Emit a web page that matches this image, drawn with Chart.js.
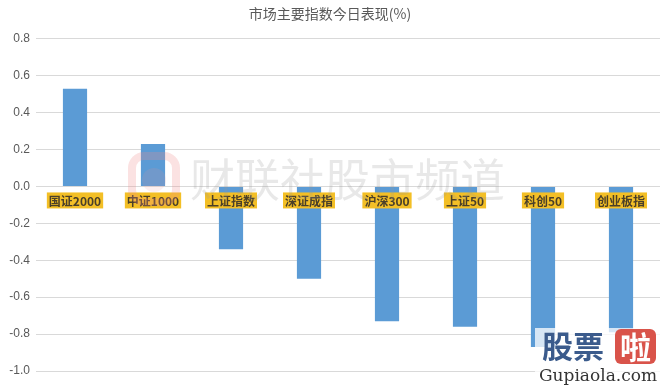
<!DOCTYPE html>
<html>
<head>
<meta charset="utf-8">
<script src="https://cdn.jsdelivr.net/npm/chart.js@4"></script>
<style>
  html, body { margin: 0; padding: 0; background: #fff; }
  #wrap { width: 660px; height: 387px; }
</style>
</head>
<body>
<div id="wrap"><canvas id="chart" width="660" height="387"></canvas></div>
<script>
const categories = ['国证2000', '中证1000', '上证指数', '深证成指', '沪深300', '上证50', '科创50', '创业板指'];
const changes = [0.53, 0.23, -0.34, -0.50, -0.73, -0.76, -0.87, -0.79];
const yTicks = [0.8, 0.6, 0.4, 0.2, 0.0, -0.2, -0.4, -0.6, -0.8, -1.0];

const CJK = '"Noto Sans CJK SC", "Noto Sans", sans-serif';

// category labels sit on the zero line with a yellow box
const zeroLabels = {
    id: 'zeroLabels',
    afterDatasetsDraw(chart) {
        const ctx = chart.ctx;
        const x = chart.scales.x, y = chart.scales.y;
        const y0 = y.getPixelForValue(0) + 14;
        ctx.save();
        ctx.font = 'bold 12px ' + CJK;
        ctx.textAlign = 'center';
        ctx.textBaseline = 'middle';
        categories.forEach((name, i) => {
            const cx = x.getPixelForValue(i);
            const w = ctx.measureText(name).width + 4;
            ctx.fillStyle = '#F3BF26';
            ctx.fillRect(cx - w / 2, y0 - 8, w, 16);
            ctx.fillStyle = '#4a3f28';
            ctx.fillText(name, cx, y0 + 1);
        });
        ctx.restore();
    }
};

// faint watermarks seen in the picture
const watermarks = {
    id: 'watermarks',
    afterDraw(chart) {
        const ctx = chart.ctx;
        ctx.save();
        // logo square
        ctx.strokeStyle = 'rgba(240,140,140,0.25)';
        ctx.lineWidth = 8;
        ctx.beginPath();
        ctx.roundRect(132, 156, 44, 46, 12);
        ctx.stroke();
        ctx.fillStyle = 'rgba(240,150,150,0.15)';
        ctx.beginPath();
        ctx.arc(154, 180, 12, 0, Math.PI * 2);
        ctx.fill();
        ctx.font = '45px ' + CJK;
        ctx.fillStyle = 'rgba(150,150,150,0.22)';
        ctx.textBaseline = 'middle';
        ctx.fillText('财联社股市频道', 190, 180);

        // bottom right stamp
        ctx.fillStyle = 'rgba(255,255,255,0.75)';
        ctx.fillRect(535, 328, 125, 59);
        ctx.font = 'bold 31px ' + CJK;
        ctx.fillStyle = '#3b5b8c';
        ctx.fillText('股票', 542, 346);
        ctx.fillStyle = '#d9534a';
        ctx.beginPath();
        ctx.roundRect(615, 329, 41, 35, 6);
        ctx.fill();
        ctx.fillStyle = '#fff';
        ctx.fillText('啦', 620, 347);
        ctx.font = '17px "DejaVu Serif", serif';
        ctx.fillStyle = '#333';
        ctx.fillText('Gupiaola.com', 539, 377);
        ctx.restore();
    }
};

new Chart(document.getElementById('chart'), {
    type: 'bar',
    data: {
        labels: categories,
        datasets: [{
            data: changes,
            backgroundColor: '#5B9BD5',
            categoryPercentage: 1,
            barPercentage: 0.31
        }]
    },
    options: {
        responsive: false,
        animation: false,
        layout: { padding: { left: 0, right: 0, top: 0, bottom: 16 } },
        plugins: {
            legend: { display: false },
            tooltip: { enabled: false },
            title: {
                display: true,
                text: '市场主要指数今日表现(%)',
                color: '#595959',
                font: { family: CJK, size: 14, weight: 'normal' },
                padding: { top: 5, bottom: 17 }
            }
        },
        scales: {
            x: {
                display: false,
                grid: { display: false }
            },
            y: {
                min: -1.0,
                max: 0.8,
                afterBuildTicks(scale) {
                    scale.ticks = yTicks.map(v => ({ value: v }));
                },
                afterFit(scale) { scale.width = 36; },
                grid: { color: '#d9d9d9', drawTicks: false },
                border: { display: false },
                ticks: {
                    padding: 6,
                    color: '#595959',
                    font: { family: '"Liberation Sans", Arial, sans-serif', size: 12 },
                    callback: v => v.toFixed(1)
                }
            }
        }
    },
    plugins: [zeroLabels, watermarks]
});
</script>
</body>
</html>
